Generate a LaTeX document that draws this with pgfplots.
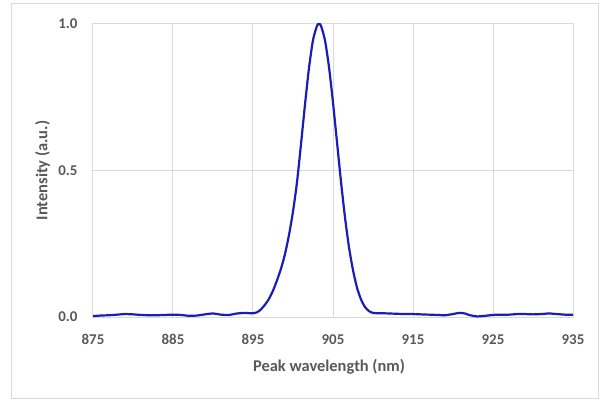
\documentclass[border=0pt]{standalone}
\usepackage{pgfplots}
\pgfplotsset{compat=1.18}
\usepackage{fontspec}
\setmainfont{Carlito}

\definecolor{gridgray}{HTML}{D9D9D9}
\definecolor{textgray}{HTML}{595959}
\definecolor{lineblue}{RGB}{28,28,185}

\begin{document}
\begin{tikzpicture}
% page bounds and outer chart frame
\path (-93bp,-84bp) rectangle (509bp,317bp);
\draw[gridgray, line width=1bp] (-81bp,-81bp) rectangle (505bp,313bp);

\begin{axis}[
    at={(0,0)}, anchor=south west,
    scale only axis,
    width=480bp, height=293bp,
    xmin=875, xmax=935,
    ymin=0, ymax=1,
    xtick={875,885,...,935},
    ytick={0,0.5,1},
    /pgf/number format/assume math mode=true,
    major tick length=0pt,
    grid=major,
    major grid style={gridgray, line width=1bp},
    axis line style={gridgray, line width=1bp},
    tick label style={font=\fontsize{15}{18}\selectfont\bfseries, text=textgray},
    xticklabel style={yshift=-14bp},
    yticklabel style={xshift=-12bp,
        /pgf/number format/fixed,
        /pgf/number format/fixed zerofill,
        /pgf/number format/precision=1},
    label style={font=\fontsize{16.5}{20}\selectfont\bfseries, text=textgray},
    xlabel={Peak wavelength (nm)},
    xlabel style={at={(axis description cs:0.4917,-0.1867)}, anchor=base},
    ylabel={Intensity (a.u.)},
    ylabel style={at={(axis description cs:-0.0948,0.5)}, anchor=base},
    clip=false,
]
\addplot[lineblue, line width=2.2bp, smooth, tension=0.4] coordinates {
(875,0.003) (876,0.005) (877,0.006) (878,0.008) (879,0.010) (880,0.009)
(881,0.007) (882,0.006) (883,0.006) (884,0.007) (885,0.008) (886,0.007)
(887,0.004) (888,0.005) (889,0.009) (890,0.012) (891,0.008) (892,0.007)
(893,0.012) (894,0.014) (894.5,0.013) (895,0.013)
(895.5,0.016) (896,0.026) (896.5,0.042) (897,0.062) (897.5,0.090)
(898,0.125) (898.5,0.165) (899,0.215) (899.5,0.280) (900,0.360)
(900.5,0.460) (901,0.590) (901.5,0.725) (902,0.850) (902.5,0.945)
(903,0.994) (903.25,1.000) (903.5,0.994) (904,0.944) (904.5,0.853)
(905,0.732) (905.5,0.597) (906,0.462) (906.5,0.340) (907,0.238)
(907.5,0.160) (908,0.100) (908.5,0.060) (909,0.034) (909.5,0.020)
(910,0.014) (910.5,0.013) (911,0.013) (912,0.012) (913,0.011)
(914,0.010) (915,0.010) (916,0.009) (917,0.008) (918,0.007)
(919,0.006) (920,0.010) (920.8,0.014) (921.5,0.012) (922,0.007)
(923,0.002) (924,0.004) (925,0.007) (926,0.008) (927,0.008)
(928,0.010) (929,0.010) (930,0.009) (931,0.010) (932,0.012)
(933,0.010) (934,0.008) (935,0.008)
};
\end{axis}
\end{tikzpicture}
\end{document}
